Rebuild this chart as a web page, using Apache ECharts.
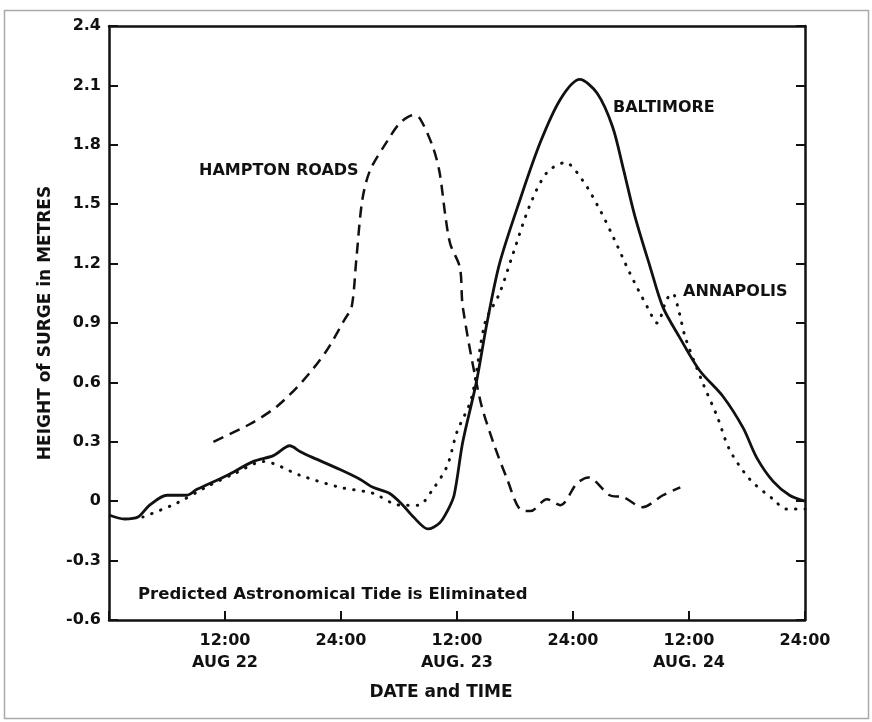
<!DOCTYPE html>
<html>
<head>
<meta charset="utf-8">
<script src="https://cdn.jsdelivr.net/npm/echarts@6/dist/echarts.min.js"></script>
<style>
  html, body { margin: 0; padding: 0; background: #fff; }
  #chart { width: 872px; height: 722px; }
</style>
</head>
<body>
<div id="chart"></div>
<script>
  // hours from 00:00 Aug 22
  const baltHours = [0, 1.6, 3, 4.2, 6, 8, 9.1, 12.2, 14.9, 17, 18.7, 19.8, 21.1, 23.9, 26, 27.3, 29, 30.4, 31.5, 33, 34.2, 35, 35.7, 36.6, 38, 39.1, 40.4, 42.5, 44.6, 46.7, 48.7, 50.5, 52.1, 53.2, 54.4, 56, 57.3, 59, 61.1, 63.5, 65.6, 67, 68.7, 70.4, 72]
  const baltValues = [-0.07, -0.09, -0.08, -0.02, 0.03, 0.03, 0.06, 0.13, 0.2, 0.23, 0.28, 0.25, 0.22, 0.16, 0.11, 0.07, 0.04, -0.02, -0.08, -0.14, -0.11, -0.05, 0.03, 0.3, 0.6, 0.9, 1.2, 1.52, 1.81, 2.03, 2.13, 2.06, 1.89, 1.68, 1.44, 1.18, 0.98, 0.83, 0.66, 0.53, 0.37, 0.22, 0.1, 0.03, 0.0]

  const annaHours = [3.5, 7, 10, 13, 16, 19.8, 23.9, 27.3, 30.1, 32, 33.5, 35, 36, 37.5, 38.9, 40.4, 41.8, 43.5, 45.3, 47.2, 49, 50.8, 52.3, 53.9, 55.7, 56.7, 57.7, 58.3, 59, 59.6, 61.4, 62.9, 64.2, 66.3, 68.7, 70.1, 72]
  const annaValues = [-0.08, -0.01, 0.07, 0.14, 0.2, 0.13, 0.07, 0.04, -0.02, -0.02, 0.06, 0.18, 0.35, 0.52, 0.9, 1.05, 1.25, 1.49, 1.66, 1.71, 1.62, 1.47, 1.32, 1.15, 0.98, 0.9, 1.02, 1.05, 0.95, 0.83, 0.6, 0.43, 0.26, 0.11, 0.01, -0.04, -0.04]

  const hampHours = [10.8, 14.6, 17.4, 20.1, 22.5, 24.4, 25.1, 25.6, 26.2, 27, 28.8, 30.1, 31.5, 32.2, 33.5, 34.2, 34.8, 35.3, 36.3, 36.6, 38.4, 39.8, 41.2, 42.5, 43.6, 45.3, 46.7, 48.4, 49.6, 51.8, 53.2, 55.2, 57.3, 59.1]
  const hampValues = [0.3, 0.39, 0.48, 0.61, 0.76, 0.92, 0.98, 1.23, 1.52, 1.67, 1.82, 1.91, 1.95, 1.93, 1.79, 1.66, 1.44, 1.3, 1.18, 0.98, 0.51, 0.29, 0.11, -0.04, -0.05, 0.01, -0.02, 0.09, 0.12, 0.03, 0.02, -0.03, 0.03, 0.07]

  const xTickLabels = { 12: '12:00\nAUG 22', 24: '24:00', 36: '12:00\nAUG. 23', 48: '24:00', 60: '12:00\nAUG. 24', 72: '24:00' }

  const zip = (xs, ys) => xs.map((x, i) => [x, ys[i]])
  const font = 'DejaVu Sans'
  const ink = '#111'
  const labelFont = 'bold 16px "DejaVu Sans"'

  const chart = echarts.init(document.getElementById('chart'))
  chart.setOption({
    animation: false,
    backgroundColor: '#fff',
    grid: { left: 109, right: 67, top: 26, bottom: 102 },
    xAxis: [
      {
        type: 'value', min: 0, max: 72, interval: 12,
        name: 'DATE and TIME', nameLocation: 'middle', nameGap: 64,
        nameTextStyle: { fontFamily: font, fontSize: 17, fontWeight: 'bold', color: ink, padding: [0, 32, 0, 0] },
        axisLine: { onZero: false, lineStyle: { color: ink, width: 2.5 } },
        axisTick: { inside: true, length: 9, lineStyle: { color: ink, width: 2 } },
        axisLabel: {
          fontFamily: font, fontSize: 16, fontWeight: 'bold', color: ink, lineHeight: 22, margin: 10,
          formatter: v => xTickLabels[v] || ''
        },
        splitLine: { show: false }
      },
      {
        type: 'value', min: 0, max: 72, position: 'top',
        axisLine: { onZero: false, lineStyle: { color: ink, width: 2.5 } },
        axisTick: { show: false }, axisLabel: { show: false }, splitLine: { show: false }
      }
    ],
    yAxis: [
      {
        type: 'value', min: -0.6, max: 2.4, interval: 0.3,
        name: 'HEIGHT of SURGE in METRES', nameLocation: 'middle', nameGap: 55, nameRotate: 90,
        nameTextStyle: { fontFamily: font, fontSize: 17, fontWeight: 'bold', color: ink },
        axisLine: { show: true, onZero: false, lineStyle: { color: ink, width: 2.5 } },
        axisTick: { show: true, inside: true, length: 9, lineStyle: { color: ink, width: 2 } },
        axisLabel: {
          fontFamily: font, fontSize: 16, fontWeight: 'bold', color: ink, margin: 8,
          formatter: v => {
            const s = v.toFixed(1)
            return (s === '0.0' || s === '-0.0') ? '0' : s
          }
        },
        splitLine: { show: false }
      },
      {
        type: 'value', min: -0.6, max: 2.4, interval: 0.3, position: 'right',
        axisLine: { show: true, onZero: false, lineStyle: { color: ink, width: 2.5 } },
        axisTick: { show: true, inside: true, length: 9, lineStyle: { color: ink, width: 2 } },
        axisLabel: { show: false }, splitLine: { show: false }
      }
    ],
    series: [
      {
        name: 'HAMPTON ROADS', type: 'line', smooth: 0.3, showSymbol: false,
        data: zip(hampHours, hampValues),
        lineStyle: { color: ink, width: 2.5, type: [11, 7] }
      },
      {
        name: 'ANNAPOLIS', type: 'line', smooth: 0.3, showSymbol: false,
        data: zip(annaHours, annaValues),
        lineStyle: { color: ink, width: 3, type: [0.5, 9], cap: 'round' }
      },
      {
        name: 'BALTIMORE', type: 'line', smooth: 0.3, showSymbol: false,
        data: zip(baltHours, baltValues),
        lineStyle: { color: ink, width: 2.8 }
      }
    ],
    graphic: [
      { type: 'rect', left: 2, top: 8, shape: { width: 864, height: 708 }, style: { fill: 'none', stroke: '#aaa', lineWidth: 1.5 }, silent: true },
      { type: 'text', left: 199, top: 163, style: { text: 'HAMPTON ROADS', font: labelFont, fill: ink } },
      { type: 'text', left: 613, top: 100, style: { text: 'BALTIMORE', font: labelFont, fill: ink } },
      { type: 'text', left: 683, top: 284, style: { text: 'ANNAPOLIS', font: labelFont, fill: ink } },
      { type: 'text', left: 138, top: 586, style: { text: 'Predicted Astronomical Tide is Eliminated', font: 'bold 16.5px "DejaVu Sans"', fill: ink } }
    ]
  })
</script>
</body>
</html>
